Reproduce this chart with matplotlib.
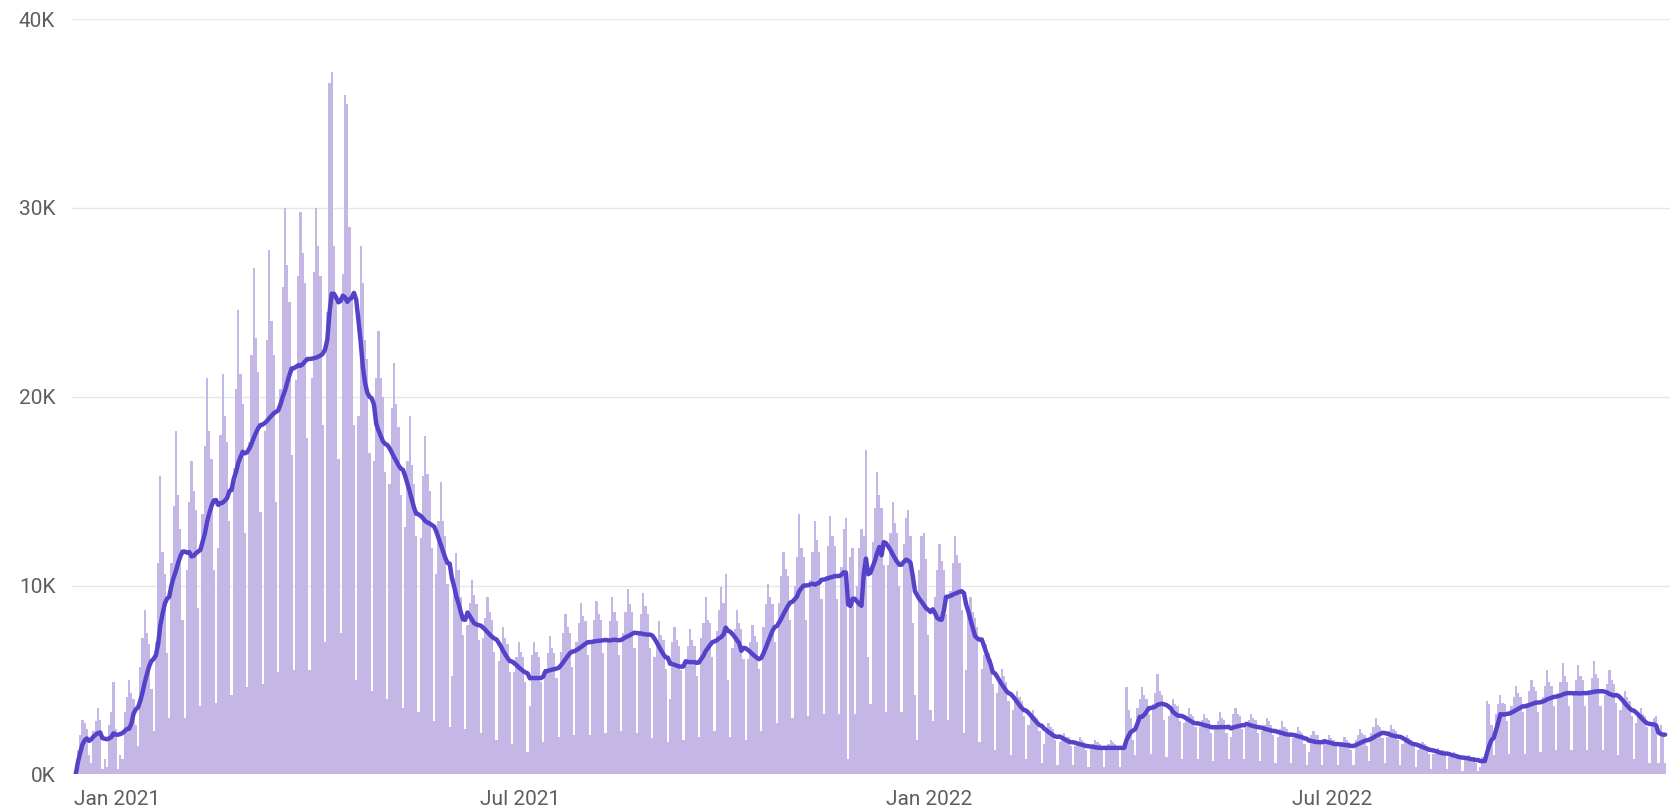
import matplotlib
matplotlib.use("Agg")
import matplotlib.pyplot as plt
import pandas as pd
import numpy as np

# ---- data (daily values, thousands), one row per week Sun..Sat, starting 2020-12-13 ----
start_date = "2020-12-13"
daily_k = [
    0.0, 1.3, 2.1, 2.9, 2.7, 2.4, 1.0,
    0.6, 2.3, 2.8, 3.5, 2.9, 0.3, 0.8,
    0.4, 2.6, 3.3, 4.9, 2.4, 0.3, 1.0,
    0.8, 3.3, 4.1, 5.0, 4.3, 4.0, 2.6,
    1.5, 5.7, 7.2, 8.7, 7.5, 6.9, 4.5,
    2.3, 7.0, 11.2, 15.8, 11.8, 10.6, 6.4,
    3.0, 11.2, 14.2, 18.2, 14.8, 13.0, 8.2,
    3.0, 10.8, 14.4, 16.6, 15.0, 14.0, 8.8,
    3.6, 13.8, 17.4, 21.0, 18.2, 16.7, 10.8,
    3.8, 12.0, 18.0, 21.2, 19.0, 17.6, 13.4,
    4.2, 16.2, 20.4, 24.6, 21.2, 19.6, 12.8,
    4.6, 17.6, 22.2, 26.8, 23.1, 21.3, 13.9,
    4.8, 18.2, 23.0, 27.8, 24.0, 22.2, 14.4,
    5.4, 20.4, 25.8, 30.0, 27.0, 25.0, 16.9,
    5.5, 20.9, 26.4, 29.8, 27.6, 26.0, 17.8,
    5.5, 21.0, 26.6, 30.0, 28.0, 26.4, 18.5,
    7.0, 24.5, 36.6, 37.2, 28.0, 25.0, 16.7,
    7.5, 26.5, 36.0, 35.5, 29.0, 25.5, 18.5,
    5.0, 19.0, 28.0, 26.0, 23.0, 22.0, 17.0,
    4.4, 16.6, 21.0, 23.5, 21.0, 20.0, 16.0,
    4.0, 15.4, 19.4, 21.8, 19.6, 18.4, 14.8,
    3.5, 13.1, 16.6, 19.0, 16.4, 15.4, 12.6,
    3.3, 12.5, 15.8, 17.9, 15.9, 15.0, 12.0,
    2.8, 10.6, 13.4, 15.5, 13.4, 12.6, 10.1,
    2.5, 5.2, 10.4, 11.7, 10.8, 9.4, 7.4,
    2.4, 7.9, 9.1, 10.3, 9.5, 9.0, 7.1,
    2.2, 7.2, 8.3, 9.4, 8.6, 8.2, 6.5,
    1.8, 6.0, 6.9, 7.8, 7.2, 6.9, 5.4,
    1.6, 5.4, 6.2, 7.0, 6.5, 6.2, 4.9,
    1.2, 3.6, 6.3, 7.0, 6.5, 6.2, 4.9,
    1.7, 5.6, 6.4, 7.3, 6.7, 6.4, 5.1,
    2.0, 6.5, 7.5, 8.5, 7.8, 7.5, 5.7,
    2.1, 7.0, 8.0, 9.1, 8.4, 8.1, 6.3,
    2.1, 7.1, 8.2, 9.2, 8.5, 8.2, 6.4,
    2.2, 7.0, 8.1, 9.4, 8.6, 8.1, 6.3,
    2.3, 7.5, 8.6, 9.8, 9.0, 8.6, 6.7,
    2.2, 7.4, 8.5, 9.6, 8.9, 8.5, 6.7,
    1.9, 6.2, 7.1, 8.1, 7.4, 7.1, 5.6,
    1.7, 4.0, 7.0, 7.8, 7.1, 6.8, 5.5,
    1.8, 5.9, 6.8, 7.7, 7.1, 6.8, 5.2,
    2.0, 7.2, 8.0, 9.4, 8.2, 8.0, 6.2,
    2.3, 7.6, 8.7, 9.9, 9.1, 10.6, 5.0,
    2.0, 6.7, 7.7, 8.7, 8.0, 7.7, 6.1,
    1.8, 6.1, 7.0, 7.9, 7.3, 7.0, 5.6,
    2.3, 7.8, 9.0, 10.1, 9.4, 9.0, 7.0,
    2.7, 9.1, 10.5, 11.8, 10.9, 10.5, 8.2,
    3.0, 10.0, 11.5, 13.8, 12.0, 11.5, 8.2,
    3.1, 10.3, 11.8, 13.4, 12.4, 11.8, 9.3,
    3.2, 10.5, 12.1, 13.7, 12.6, 12.1, 9.3,
    3.2, 11.0, 13.0, 13.6, 0.8, 11.5, 12.0,
    3.2, 10.0, 12.0, 13.0, 12.6, 17.2, 6.2,
    3.7, 12.3, 14.1, 16.0, 14.8, 14.1, 11.1,
    3.3, 11.1, 12.8, 14.4, 13.3, 12.8, 10.0,
    3.3, 12.2, 13.6, 14.0, 12.6, 8.0, 4.2,
    1.8, 10.8, 12.6, 12.8, 11.4, 7.4, 3.4,
    2.8, 9.4, 10.8, 12.2, 11.3, 10.8, 8.5,
    2.9, 9.7, 11.2, 12.6, 11.6, 11.2, 8.7,
    2.2, 5.5, 8.6, 9.4, 8.6, 8.3, 7.8,
    1.7, 5.6, 6.3, 6.9, 6.4, 6.1, 4.8,
    1.3, 4.3, 4.9, 5.6, 5.2, 4.9, 3.9,
    1.0, 3.4, 3.9, 4.4, 4.1, 3.9, 3.1,
    0.8, 2.6, 3.0, 3.4, 3.1, 3.0, 2.3,
    0.6, 1.6, 2.4, 2.7, 2.5, 2.4, 1.8,
    0.5, 1.7, 2.0, 2.2, 2.0, 2.0, 1.5,
    0.5, 1.5, 1.7, 2.0, 1.8, 1.7, 1.3,
    0.4, 1.4, 1.6, 1.8, 1.7, 1.6, 1.3,
    0.4, 1.4, 1.6, 1.8, 1.7, 1.6, 1.3,
    0.4, 1.4, 1.6, 4.6, 3.4, 3.0, 1.8,
    1.0, 3.5, 4.0, 4.6, 4.2, 4.0, 3.2,
    1.1, 3.7, 4.3, 5.3, 4.4, 4.2, 2.9,
    0.9, 3.1, 3.6, 4.0, 3.7, 3.6, 2.8,
    0.8, 2.7, 3.1, 3.5, 3.2, 3.1, 2.5,
    0.8, 2.5, 2.9, 3.2, 3.0, 2.9, 2.2,
    0.7, 2.6, 2.8, 3.3, 3.0, 2.9, 2.2,
    0.8, 2.0, 3.2, 3.5, 3.2, 3.1, 2.4,
    0.8, 2.5, 2.9, 3.2, 3.0, 2.9, 2.2,
    0.7, 2.3, 2.6, 3.0, 2.8, 2.6, 2.1,
    0.6, 2.0, 2.4, 2.8, 2.5, 2.4, 2.0,
    0.6, 1.9, 2.2, 2.5, 2.3, 2.2, 1.6,
    0.5, 1.2, 2.1, 2.3, 2.1, 2.1, 1.6,
    0.5, 1.6, 1.8, 2.1, 1.9, 1.8, 1.5,
    0.5, 1.5, 1.7, 2.0, 1.8, 1.7, 1.3,
    0.5, 1.8, 2.1, 2.4, 2.2, 2.1, 1.5,
    0.7, 2.2, 2.5, 3.0, 2.6, 2.5, 1.9,
    0.6, 2.0, 2.3, 2.6, 2.4, 2.3, 1.8,
    0.5, 1.6, 1.8, 2.1, 1.9, 1.8, 1.5,
    0.4, 1.3, 1.5, 1.7, 1.6, 1.5, 1.1,
    0.3, 1.1, 1.3, 1.4, 1.3, 1.3, 1.0,
    0.3, 0.9, 1.0, 1.2, 1.1, 1.0, 0.8,
    0.2, 0.8, 0.9, 1.0, 0.9, 0.9, 0.6,
    0.2, 0.4, 0.9, 1.0, 3.9, 3.7, 2.6,
    1.0, 3.2, 3.7, 4.2, 3.8, 3.7, 2.8,
    1.1, 3.6, 4.1, 4.7, 4.3, 4.1, 3.3,
    1.1, 3.8, 4.4, 5.0, 4.6, 4.4, 3.3,
    1.2, 4.1, 4.7, 5.5, 4.9, 4.7, 3.6,
    1.3, 4.3, 4.9, 5.9, 5.2, 4.9, 3.6,
    1.3, 4.2, 5.0, 5.8, 5.2, 5.0, 3.6,
    1.3, 4.4, 5.1, 6.0, 5.3, 5.1, 3.6,
    1.3, 4.2, 4.8, 5.5, 5.0, 4.8, 3.8,
    1.0, 3.4, 3.9, 4.4, 4.1, 3.9, 3.1,
    0.8, 2.7, 3.1, 3.5, 3.2, 3.1, 2.5,
    0.6, 2.6, 3.0, 3.1, 0.6, 2.6, 2.2,
    0.6,
]
tick_dates = ["2021-01-01", "2021-07-01", "2022-01-01", "2022-07-01"]
tick_labels = ["Jan 2021", "Jul 2021", "Jan 2022", "Jul 2022"]
y_ticks = [0, 10, 20, 30, 40]
y_tick_labels = ["0K", "10K", "20K", "30K", "40K"]

# ---- build ----
dates = pd.date_range(start_date, periods=len(daily_k), freq="D")
s = pd.Series(np.array(daily_k) * 1000.0, index=dates)
ma7 = s.rolling(7, min_periods=1).mean()

plt.rcParams["font.family"] = ["Roboto", "DejaVu Sans"]

W, H = 1670, 808
fig = plt.figure(figsize=(W / 100, H / 100), dpi=100)
ax_left, ax_right = 72 / W, 1.0
ax_bottom, ax_top = (H - 774.3) / H, 1 - 19.2 / H
ax = fig.add_axes([ax_left, ax_bottom, ax_right - ax_left, ax_top - ax_bottom])

bar_color = "#C4B7E6"
line_color = "#5443C8"
text_color = "#605E5C"

centers = dates + pd.Timedelta(hours=12)
ax.bar(centers, s.values, width=1.0, color=bar_color, edgecolor="none",
       linewidth=0, zorder=2)
ax.plot(centers, ma7.values, color=line_color, linewidth=3.2,
        solid_joinstyle="round", solid_capstyle="round", zorder=3)

t0 = pd.Timestamp(start_date)
ax.set_xlim(t0 - pd.Timedelta(days=1.17), t0 + pd.Timedelta(days=716.7))
ax.set_ylim(0, 40000)

ax.set_yticks([v * 1000 for v in y_ticks])
ax.set_yticklabels(y_tick_labels)
ax.set_xticks(pd.to_datetime(tick_dates))
ax.set_xticklabels(tick_labels)

for sp in ax.spines.values():
    sp.set_visible(False)
ax.tick_params(axis="both", length=0, colors=text_color, labelsize=15)
ax.tick_params(axis="y", pad=12)
ax.tick_params(axis="x", pad=11)
ax.grid(axis="y", color="#E6E6E6", linewidth=1.0, zorder=0)
ax.set_axisbelow(True)

fig.savefig("out.png", dpi=100, facecolor="white")
